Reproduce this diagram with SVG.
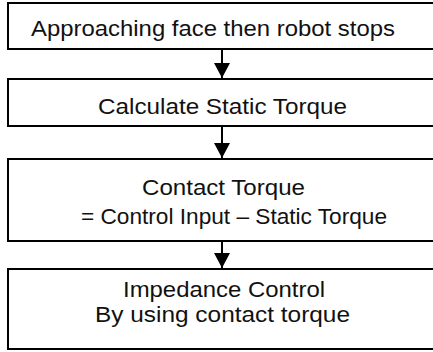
<svg xmlns="http://www.w3.org/2000/svg" width="433" height="352" viewBox="0 0 433 352">
<style>
.box{fill:#fff;stroke:#000;stroke-width:2}
.t{font-family:"Liberation Sans",Arial,sans-serif;font-size:22px;fill:#111}
.c{stroke:#000;stroke-width:2;fill:none}
</style>
<defs>
<marker id="ah" markerWidth="15" markerHeight="16" refX="15" refY="8" orient="auto" markerUnits="userSpaceOnUse" viewBox="0 0 15 16">
<path d="M0,0 L15,8 L0,16 z" fill="#000"/>
</marker>
</defs>
<rect width="433" height="352" fill="#fff"/>
<g id="connectors">
<line class="c" x1="222" y1="49" x2="222" y2="78" marker-end="url(#ah)"/>
<line class="c" x1="222" y1="126" x2="222" y2="158" marker-end="url(#ah)"/>
<line class="c" x1="222" y1="241" x2="222" y2="268" marker-end="url(#ah)"/>
</g>
<g id="n1">
<rect class="box" x="8" y="3" width="440" height="46"/>
<text class="t" x="31" y="36" textLength="364" lengthAdjust="spacingAndGlyphs">Approaching face then robot stops</text>
</g>
<g id="n2">
<rect class="box" x="8" y="79" width="440" height="47"/>
<text class="t" x="98" y="114" textLength="249" lengthAdjust="spacingAndGlyphs">Calculate Static Torque</text>
</g>
<g id="n3">
<rect class="box" x="8" y="159" width="440" height="82"/>
<text class="t" x="142" y="195" textLength="163" lengthAdjust="spacingAndGlyphs">Contact Torque</text>
<text class="t" x="81" y="224" textLength="306" lengthAdjust="spacingAndGlyphs">= Control Input – Static Torque</text>
</g>
<g id="n4">
<rect class="box" x="8" y="269" width="440" height="80"/>
<text class="t" x="123" y="297" textLength="202" lengthAdjust="spacingAndGlyphs">Impedance Control</text>
<text class="t" x="95" y="322" textLength="255" lengthAdjust="spacingAndGlyphs">By using contact torque</text>
</g>
</svg>
